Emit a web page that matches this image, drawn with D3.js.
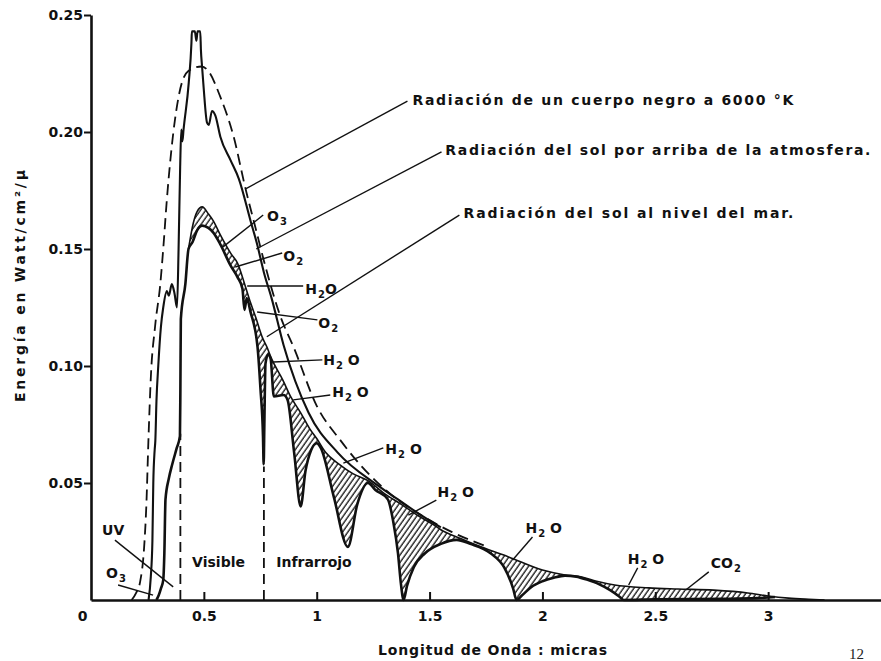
<!DOCTYPE html>
<html>
<head>
<meta charset="utf-8">
<script src="https://cdn.jsdelivr.net/npm/d3@7"></script>
<style>
body { margin: 0; background: #fff; }
svg { display: block; }
</style>
</head>
<body>
<script>
// curvas: [longitud de onda (micras), energia (W/cm2/micra)]
var cuerpoNegro = [[0.18,0],[0.20,0.003],[0.218,0.008],[0.235,0.022],[0.245,0.04],[0.255,0.07],[0.265,0.095],[0.284,0.117],[0.307,0.135],[0.32,0.15],[0.336,0.171],[0.365,0.2],[0.39,0.216],[0.43,0.226],[0.49,0.228],[0.52,0.226],[0.573,0.215],[0.632,0.198],[0.684,0.176],[0.729,0.159],[0.766,0.145],[0.84,0.121],[0.898,0.108],[1.0,0.083],[1.107,0.068],[1.2,0.057],[1.33,0.045],[1.45,0.037],[1.6,0.029],[1.75,0.023]];

var solArriba = [[0.255,0],[0.265,0.01],[0.272,0.025],[0.276,0.05],[0.282,0.064],[0.285,0.068],[0.29,0.085],[0.298,0.1],[0.31,0.117],[0.32,0.125],[0.336,0.132],[0.345,0.13],[0.358,0.135],[0.37,0.131],[0.381,0.125],[0.388,0.15],[0.395,0.185],[0.40,0.201],[0.405,0.196],[0.41,0.201],[0.433,0.221],[0.445,0.238],[0.447,0.243],[0.46,0.243],[0.467,0.239],[0.472,0.243],[0.484,0.243],[0.487,0.235],[0.492,0.228],[0.499,0.219],[0.514,0.204],[0.522,0.203],[0.536,0.209],[0.551,0.207],[0.573,0.198],[0.618,0.188],[0.655,0.18],[0.707,0.162],[0.736,0.152],[0.766,0.14],[0.8,0.129],[0.853,0.109],[0.964,0.08],[1.093,0.063],[1.27,0.049],[1.36,0.043],[1.45,0.037],[1.55,0.031]];

// nivel del mar sin bandas de absorcion (borde superior del rayado)
var marSinAbsorcion = [[0.432,0.15],[0.453,0.161],[0.47,0.166],[0.493,0.168],[0.52,0.165],[0.542,0.162],[0.573,0.156],[0.62,0.148],[0.649,0.144],[0.684,0.134],[0.707,0.127],[0.729,0.121],[0.76,0.112],[0.78,0.108],[0.796,0.104],[0.85,0.094],[0.884,0.087],[0.929,0.08],[0.97,0.073],[1.0,0.069],[1.04,0.063],[1.1,0.058],[1.16,0.054],[1.227,0.051],[1.3,0.0455],[1.373,0.041],[1.45,0.036],[1.52,0.032],[1.55,0.03],[1.64,0.0262],[1.73,0.0226],[1.85,0.0184],[2.0,0.0128],[2.1,0.0107],[2.17,0.0099],[2.24,0.008],[2.32,0.0064],[2.47,0.0052],[2.6,0.0047],[2.76,0.0042],[2.91,0.003],[3.0,0.0017],[3.09,0.0008],[3.18,0.0003],[3.25,0]];

var solMar = [[0.29,0],[0.30,0.002],[0.31,0.005],[0.32,0.0085],[0.325,0.02],[0.33,0.043],[0.345,0.052],[0.36,0.058],[0.38,0.065],[0.394,0.07],[0.396,0.09],[0.398,0.12],[0.418,0.135],[0.432,0.15],[0.45,0.153],[0.47,0.158],[0.493,0.16],[0.52,0.159],[0.542,0.157],[0.573,0.152],[0.618,0.143],[0.649,0.138],[0.671,0.133],[0.68,0.124],[0.69,0.129],[0.707,0.123],[0.738,0.108],[0.751,0.09],[0.762,0.07],[0.765,0.058],[0.768,0.075],[0.773,0.101],[0.785,0.105],[0.796,0.103],[0.81,0.087],[0.853,0.0876],[0.871,0.0855],[0.90,0.063],[0.929,0.04],[0.95,0.055],[0.975,0.064],[1.0,0.067],[1.018,0.065],[1.076,0.044],[1.138,0.0227],[1.18,0.041],[1.227,0.05],[1.26,0.047],[1.315,0.043],[1.34,0.033],[1.36,0.02],[1.373,0.007],[1.385,0],[1.40,0.006],[1.43,0.014],[1.48,0.02],[1.55,0.024],[1.62,0.0257],[1.68,0.024],[1.77,0.02],[1.83,0.014],[1.87,0.005],[1.885,0],[1.91,0.002],[1.95,0.0055],[2.0,0.008],[2.05,0.0095],[2.1,0.0104],[2.15,0.01],[2.2,0.0086],[2.25,0.0068],[2.3,0.0042],[2.34,0.0015],[2.36,0],[2.5,0.0003],[2.8,0.0005],[2.95,0.0008],[3.03,0.0013]];

// limites del visible
var limitesVisible = [[0.396,0.071],[0.766,0.057]];

var xTicks = [0, 0.5, 1, 1.5, 2, 2.5, 3];
var yTicks = [0.05, 0.10, 0.15, 0.20, 0.25];

// rotulos: texto, punto del texto y linea de referencia (en unidades de los ejes)
var rotulosCurvas = [
  {texto: "Radiación de un cuerpo negro a 6000 °K", at: [1.424,0.2115], de: [1.402,0.2132], a: [0.683,0.1756], largo: 381},
  {texto: "Radiación del sol por arriba de la atmosfera.", at: [1.570,0.190], de: [1.553,0.1915], a: [0.732,0.150], largo: 425},
  {texto: "Radiación del sol al nivel del mar.", at: [1.650,0.1632], de: [1.632,0.1645], a: [0.779,0.1125], largo: 330}
];

var rotulosGases = [
  {t: "O", s: "3", f: "", at: [0.780,0.162], de: [0.763,0.1645], a: [0.585,0.1509]},
  {t: "O", s: "2", f: "", at: [0.852,0.1449], de: [0.847,0.1483], a: [0.639,0.1423]},
  {t: "H", s: "2", f: "O", at: [0.949,0.1308], de: [0.940,0.1342], a: [0.692,0.1342]},
  {t: "O", s: "2", f: "", at: [1.007,0.1162], de: [1.003,0.1197], a: [0.736,0.1231]},
  {t: "H", s: "2", f: " O", at: [1.029,0.1004], de: [1.025,0.1026], a: [0.807,0.1017]},
  {t: "H", s: "2", f: " O", at: [1.069,0.0868], de: [1.060,0.0876], a: [0.896,0.0855]},
  {t: "H", s: "2", f: " O", at: [1.304,0.0624], de: [1.295,0.065], a: [1.118,0.0585]},
  {t: "H", s: "2", f: " O", at: [1.535,0.044], de: [1.530,0.0427], a: [1.406,0.0363]},
  {t: "H", s: "2", f: " O", at: [1.925,0.0286], de: [1.956,0.0269], a: [1.868,0.0171]},
  {t: "H", s: "2", f: " O", at: [2.378,0.0154], de: [2.422,0.0137], a: [2.382,0.0064]},
  {t: "CO", s: "2", f: "", at: [2.746,0.0137], de: [2.737,0.012], a: [2.635,0.0043]},
  {t: "UV", s: "", f: "", at: [0.049,0.0278], de: [0.106,0.0256], a: [0.364,0.0056]},
  {t: "O", s: "3", f: "", at: [0.0665,0.0094], de: [0.12,0.0064], a: [0.275,0.0021]}
];

var rotulosRegiones = [
  {texto: "Visible", at: [0.448,0.0141]},
  {texto: "Infrarrojo", at: [0.8207,0.0141]}
];

var fuente = "'DejaVu Sans', sans-serif";

var svg = d3.select("body").append("svg").attr("width", 881).attr("height", 661);

var x = d3.scaleLinear().domain([0, 3.5]).range([91, 881]);
var y = d3.scaleLinear().domain([0, 0.25]).range([600, 15]);

// rayado
var defs = svg.append("defs");
defs.append("pattern")
  .attr("id", "rayado")
  .attr("patternUnits", "userSpaceOnUse")
  .attr("width", 4.3).attr("height", 10)
  .attr("patternTransform", "rotate(35)")
  .append("line")
  .attr("x1", 1).attr("y1", 0).attr("x2", 1).attr("y2", 10)
  .attr("stroke", "#111").attr("stroke-width", 1.3);

var areaArriba = d3.area().curve(d3.curveMonotoneX)
  .x(function(d){ return x(d[0]); })
  .y0(0)
  .y1(function(d){ return y(d[1]); });

defs.append("clipPath").attr("id", "sobreMar")
  .append("path").attr("d", areaArriba(solMar));

var areaBajo = d3.area().curve(d3.curveMonotoneX)
  .x(function(d){ return x(d[0]); })
  .y0(y(0))
  .y1(function(d){ return y(d[1]); });

svg.append("path")
  .attr("d", areaBajo(marSinAbsorcion))
  .attr("fill", "url(#rayado)")
  .attr("clip-path", "url(#sobreMar)");

var linea = d3.line().curve(d3.curveMonotoneX)
  .x(function(d){ return x(d[0]); })
  .y(function(d){ return y(d[1]); });

svg.append("path").attr("d", linea(marSinAbsorcion))
  .attr("fill", "none").attr("stroke", "#111").attr("stroke-width", 1.6);

svg.append("path").attr("d", linea(solMar))
  .attr("fill", "none").attr("stroke", "#111").attr("stroke-width", 2.6).attr("stroke-linejoin", "round");

svg.append("path").attr("d", linea(solArriba))
  .attr("fill", "none").attr("stroke", "#111").attr("stroke-width", 2.1).attr("stroke-linejoin", "round");

svg.append("path").attr("d", linea(cuerpoNegro))
  .attr("fill", "none").attr("stroke", "#111").attr("stroke-width", 1.8)
  .attr("stroke-dasharray", "11,6");

svg.selectAll("line.limite")
  .data(limitesVisible)
  .enter().append("line")
  .attr("class", "limite")
  .attr("x1", function(d){ return x(d[0]); })
  .attr("x2", function(d){ return x(d[0]); })
  .attr("y1", y(0))
  .attr("y2", function(d){ return y(d[1]); })
  .attr("stroke", "#111").attr("stroke-width", 1.8)
  .attr("stroke-dasharray", "10,6");

// ejes
var yAxis = d3.axisLeft(y).tickValues(yTicks).tickFormat(d3.format(".2f"))
  .tickSize(7).tickSizeOuter(0).tickPadding(1);
var gy = svg.append("g").attr("transform", "translate(" + x(0) + ",0)").call(yAxis);

var xAxis = d3.axisBottom(x).tickValues(xTicks).tickFormat(function(d){ return String(d); })
  .tickSize(-8).tickSizeOuter(0).tickPadding(11);
var gx = svg.append("g").attr("transform", "translate(0," + y(0) + ")").call(xAxis);

[gx, gy].forEach(function(g){
  g.select(".domain").attr("stroke", "#111").attr("stroke-width", 2.6);
  g.selectAll(".tick line").attr("stroke", "#111").attr("stroke-width", 2);
  g.selectAll(".tick text").attr("font-family", fuente).attr("font-weight", "bold")
    .attr("font-size", 14).attr("fill", "#111");
});
gx.selectAll(".tick").filter(function(d){ return d === 0; })
  .call(function(t){ t.select("line").remove(); t.select("text").attr("dx", -9); });

// titulos de ejes
svg.append("text")
  .attr("transform", "translate(25,286) rotate(-90)")
  .attr("text-anchor", "middle")
  .attr("font-family", fuente).attr("font-weight", "bold").attr("font-size", 14)
  .attr("textLength", 232).attr("lengthAdjust", "spacing")
  .attr("fill", "#111")
  .text("Energía en Watt/cm²/μ");

svg.append("text")
  .attr("x", 378).attr("y", 655)
  .attr("font-family", fuente).attr("font-weight", "bold").attr("font-size", 14)
  .attr("textLength", 229).attr("lengthAdjust", "spacing")
  .attr("fill", "#111")
  .text("Longitud de Onda : micras");

// rotulos de curvas
svg.selectAll("line.guiaCurva")
  .data(rotulosCurvas)
  .enter().append("line")
  .attr("class", "guiaCurva")
  .attr("x1", function(d){ return x(d.de[0]); })
  .attr("y1", function(d){ return y(d.de[1]); })
  .attr("x2", function(d){ return x(d.a[0]); })
  .attr("y2", function(d){ return y(d.a[1]); })
  .attr("stroke", "#111").attr("stroke-width", 1.4);

svg.selectAll("text.rotuloCurva")
  .data(rotulosCurvas)
  .enter().append("text")
  .attr("class", "rotuloCurva")
  .attr("x", function(d){ return x(d.at[0]); })
  .attr("y", function(d){ return y(d.at[1]); })
  .attr("font-family", fuente).attr("font-weight", "bold").attr("font-size", 14)
  .attr("textLength", function(d){ return d.largo; }).attr("lengthAdjust", "spacing")
  .attr("fill", "#111")
  .text(function(d){ return d.texto; });

// rotulos de gases
svg.selectAll("line.guiaGas")
  .data(rotulosGases)
  .enter().append("line")
  .attr("class", "guiaGas")
  .attr("x1", function(d){ return x(d.de[0]); })
  .attr("y1", function(d){ return y(d.de[1]); })
  .attr("x2", function(d){ return x(d.a[0]); })
  .attr("y2", function(d){ return y(d.a[1]); })
  .attr("stroke", "#111").attr("stroke-width", 1.4);

var gases = svg.selectAll("text.gas")
  .data(rotulosGases)
  .enter().append("text")
  .attr("class", "gas")
  .attr("x", function(d){ return x(d.at[0]); })
  .attr("y", function(d){ return y(d.at[1]); })
  .attr("font-family", fuente).attr("font-weight", "bold").attr("font-size", 14)
  .attr("fill", "#111");
gases.append("tspan").text(function(d){ return d.t; });
gases.append("tspan").attr("font-size", 10).attr("dy", 4).attr("dx", 1)
  .text(function(d){ return d.s; });
gases.append("tspan").attr("dy", -4)
  .text(function(d){ return d.f; });

svg.selectAll("text.region")
  .data(rotulosRegiones)
  .enter().append("text")
  .attr("class", "region")
  .attr("x", function(d){ return x(d.at[0]); })
  .attr("y", function(d){ return y(d.at[1]); })
  .attr("font-family", fuente).attr("font-weight", "bold").attr("font-size", 14)
  .attr("fill", "#111")
  .text(function(d){ return d.texto; });

// numero de pagina, abajo a la derecha
svg.append("text")
  .attr("x", 849).attr("y", 659)
  .attr("font-family", "'Liberation Serif', serif").attr("font-size", 15)
  .attr("fill", "#222")
  .text("12");
</script>
</body>
</html>
